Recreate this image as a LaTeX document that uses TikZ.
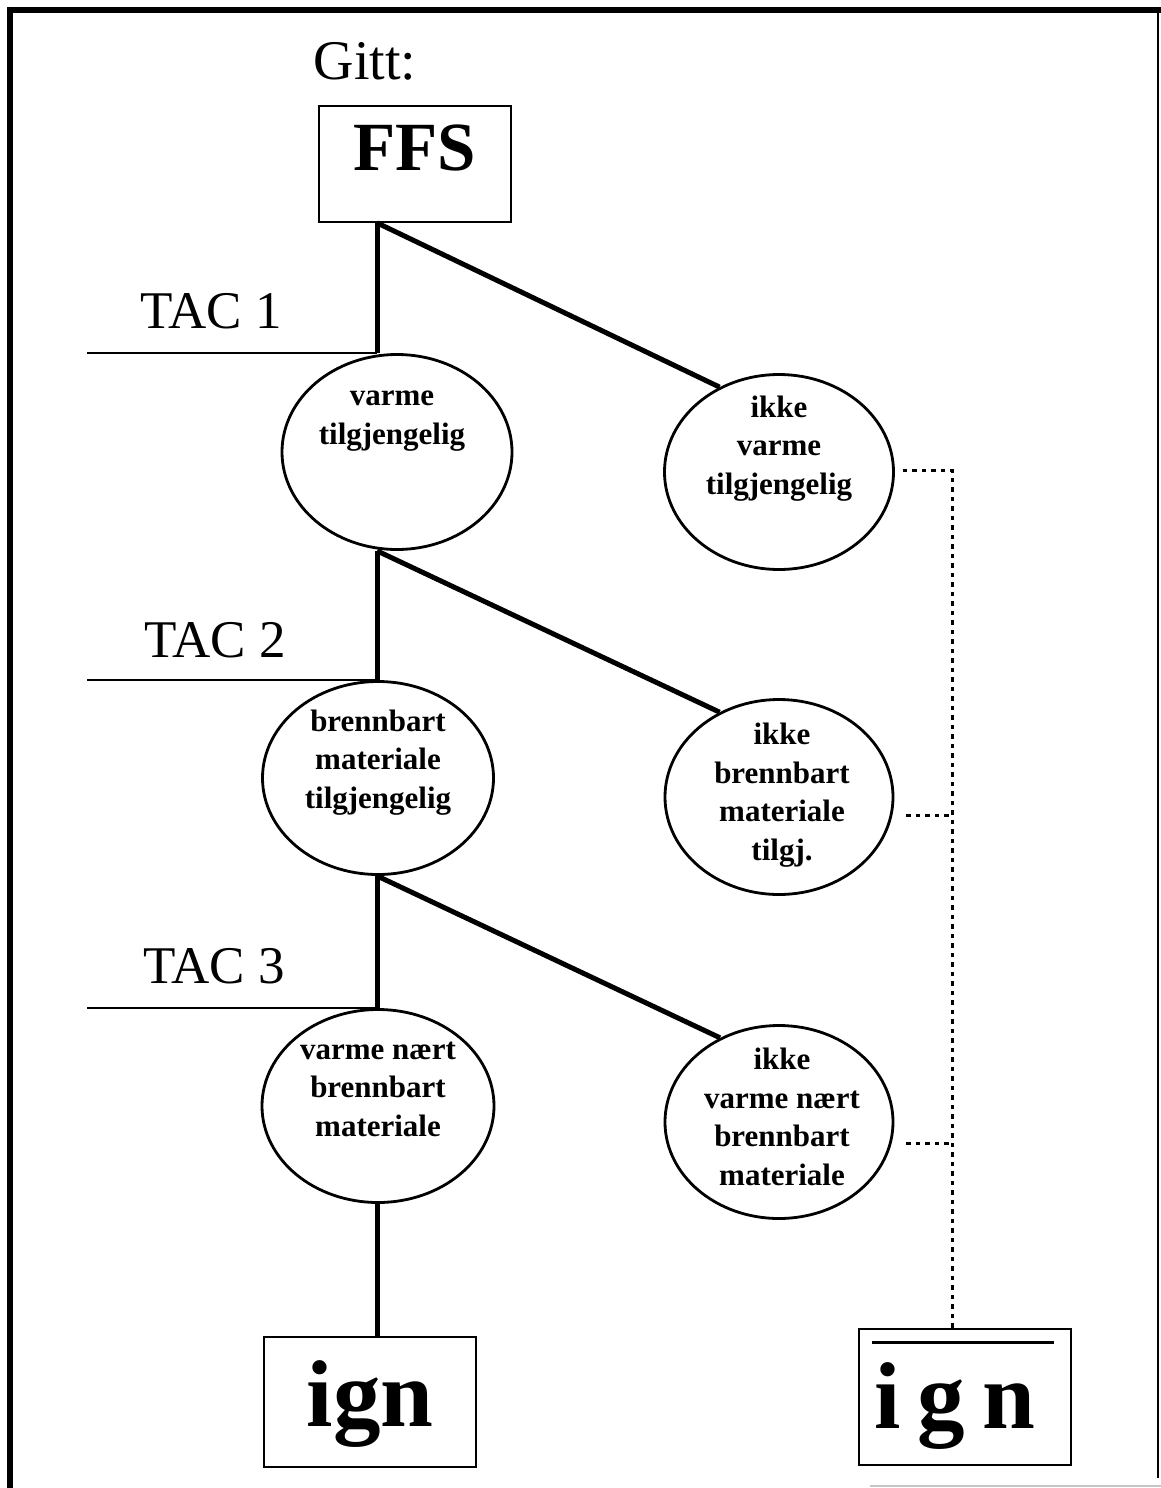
\documentclass[tikz,border=0pt]{standalone}
\usepackage{fontspec}
\setmainfont{Liberation Serif}
\usetikzlibrary{shapes.geometric,calc}

\begin{document}
\begin{tikzpicture}[x=1pt,y=-1pt,
  conn/.style={line width=5pt},
  tacline/.style={line width=1.8pt},
  dots/.style={line width=3pt,dash pattern=on 4.5pt off 5pt},
  box/.style={draw,line width=1.8pt,rectangle,inner sep=0pt},
  ell/.style={draw,line width=2.8pt,ellipse,inner sep=0pt},
  etext/.style={font=\fontsize{31}{38.5}\selectfont\bfseries,align=center,anchor=base,inner sep=0pt},
  tactext/.style={font=\fontsize{53}{60}\selectfont,anchor=base,inner sep=0pt},
]
\useasboundingbox (0,0) rectangle (1161,1488);

% page frame
\draw[line width=6pt] (10,1488) -- (10,10) -- (1161,10);
\draw[line width=1.5pt] (1158,10) -- (1158,1478);
\draw[line width=1.5pt,gray!45] (870,1486) -- (1161,1486);

% heading and top box
\node[font=\fontsize{56}{64}\selectfont,anchor=base,inner sep=0pt] (gitt) at (365,80) {Gitt:};
\node[box,minimum width=192pt,minimum height=116pt] (ffs) at (415,164) {};
\node[font=\fontsize{69}{76}\selectfont\bfseries,anchor=base,inner sep=0pt] (ffst) at (415,170) {FFS};

% event ellipses
\node[ell,minimum width=230pt,minimum height=195pt] (e1) at (397,452) {};
\node[ell,minimum width=229pt,minimum height=195pt] (e2) at (779,472) {};
\node[ell,minimum width=231pt,minimum height=193pt] (e3) at (378,778) {};
\node[ell,minimum width=228pt,minimum height=195pt] (e4) at (779,797) {};
\node[ell,minimum width=232pt,minimum height=193pt] (e5) at (378,1106) {};
\node[ell,minimum width=228pt,minimum height=193pt] (e6) at (779,1122) {};

% labels (anchored at the baseline of their last line)
\node[etext] (e1t) at (392,444) {varme\\tilgjengelig};
\node[etext] (e2t) at (779,494) {ikke\\varme\\tilgjengelig};
\node[etext] (e3t) at (378,808) {brennbart\\materiale\\tilgjengelig};
\node[etext] (e4t) at (782,860) {ikke\\brennbart\\materiale\\tilgj.};
\node[etext] (e5t) at (378,1136) {varme nært\\brennbart\\materiale};
\node[etext] (e6t) at (782,1185) {ikke\\varme nært\\brennbart\\materiale};

% outcome boxes
\node[box,minimum width=212pt,minimum height=130pt] (ign) at (370,1402) {};
\node[font=\fontsize{95}{100}\selectfont\bfseries,anchor=base,inner sep=0pt] (ignt) at (370,1426) {ign};
\node[box,minimum width=212pt,minimum height=136pt] (nign) at (965,1397) {};
\node[font=\fontsize{95}{100}\selectfont\bfseries,anchor=base,inner sep=0pt] (nignt) at (955,1428) {i\kern0.18em g\kern0.18em n};
\draw[line width=3pt] ($(nign.north west)+(14,14)$) -- ($(nign.north east)+(-18,14)$);

% branch points
\coordinate (b0) at ($(ffs.south west)+(59,0)$);
\coordinate (b1) at (b0 |- e1.south);
\coordinate (b2) at (b0 |- e3.south);
\coordinate (lft) at (87,0);
\coordinate (v) at (952,0);

% tree connectors
\draw[conn] (b0) -- (b0 |- e1.north);
\draw[conn] (b0) -- (e2.125);
\draw[conn] (b1) -- (b1 |- e3.north);
\draw[conn] (b1) -- (e4.125);
\draw[conn] (b2) -- (b2 |- e5.north);
\draw[conn] (b2) -- (e6.125);
\draw[conn] (b2 |- e5.south) -- (b2 |- ign.north);

% TAC levels
\draw[tacline] (lft |- e1.north) -- (b0 |- e1.north);
\draw[tacline] (lft |- e3.north) -- (b1 |- e3.north);
\draw[tacline] (lft |- e5.north) -- (b2 |- e5.north);
\node[tactext] (tac1) at (211,328) {TAC 1};
\node[tactext] (tac2) at (215,657) {TAC 2};
\node[tactext] (tac3) at (214,983) {TAC 3};

% dotted paths to the non-ignition outcome
\draw[dots] ($(e2.east)+(8,-2)$) -- ($(e2.east -| v)+(0,-2)$) -- (v |- nign.north);
\draw[dots] ($(e4.east)+(12,18)$) -- ($(e4.east -| v)+(0,18)$);
\draw[dots] ($(e6.east)+(12,21)$) -- ($(e6.east -| v)+(0,21)$);
\end{tikzpicture}
\end{document}
